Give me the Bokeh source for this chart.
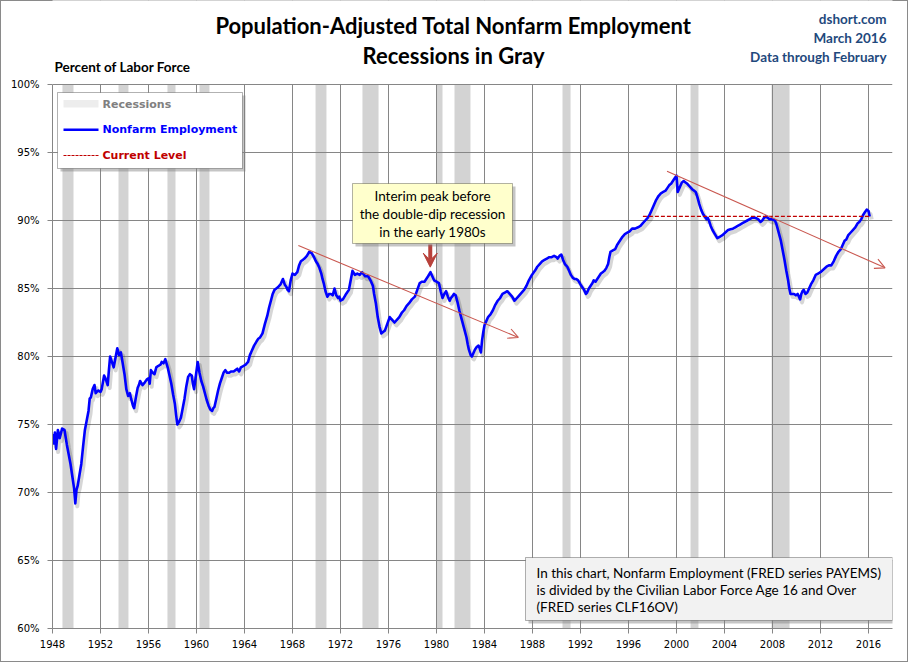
import numpy as np
from bokeh.plotting import figure
from bokeh.models import Range1d, FixedTicker, BoxAnnotation, Label, Arrow, OpenHead, VeeHead
from bokeh.embed import file_html
from bokeh.resources import INLINE

# ---------------- data ----------------
years = [
    1948.0, 1948.1, 1948.2, 1948.3, 1948.45, 1948.6, 1948.8, 1949.0, 1949.2, 1949.5, 1949.7, 1949.8, 1949.9,
    1950.0, 1950.1, 1950.25, 1950.4, 1950.55, 1950.7, 1950.85, 1951.0, 1951.1, 1951.2, 1951.35, 1951.5, 1951.6,
    1951.8, 1952.0, 1952.1, 1952.3, 1952.45, 1952.6, 1952.7, 1952.8, 1952.95, 1953.1, 1953.25, 1953.4, 1953.55,
    1953.7, 1953.85, 1954.0, 1954.15, 1954.3, 1954.45, 1954.55, 1954.7, 1954.8, 1954.95, 1955.1, 1955.2, 1955.3,
    1955.5, 1955.7, 1955.85, 1956.0, 1956.1, 1956.2, 1956.35, 1956.5, 1956.65, 1956.8, 1957.0, 1957.1, 1957.25,
    1957.4, 1957.5, 1957.6, 1957.75, 1957.9, 1958.05, 1958.2, 1958.3, 1958.4, 1958.55, 1958.7, 1958.85, 1959.0,
    1959.15, 1959.3, 1959.45, 1959.6, 1959.7, 1959.8, 1959.95, 1960.1, 1960.25, 1960.4, 1960.55, 1960.7, 1960.85,
    1961.0, 1961.15, 1961.3, 1961.4, 1961.5, 1961.65, 1961.8, 1961.95, 1962.1, 1962.25, 1962.4, 1962.55, 1962.7,
    1962.9, 1963.1, 1963.25, 1963.4, 1963.55, 1963.7, 1963.9, 1964.1, 1964.3, 1964.45, 1964.6, 1964.8, 1965.0,
    1965.15, 1965.3, 1965.5, 1965.7, 1965.9, 1966.05, 1966.2, 1966.35, 1966.5, 1966.65, 1966.8, 1967.0, 1967.2,
    1967.35, 1967.5, 1967.6, 1967.7, 1967.85, 1968.0, 1968.2, 1968.4, 1968.55, 1968.7, 1968.85, 1969.0, 1969.2,
    1969.4, 1969.6, 1969.8, 1969.95, 1970.1, 1970.25, 1970.4, 1970.5, 1970.6, 1970.75, 1970.9, 1971.05, 1971.2,
    1971.35, 1971.5, 1971.65, 1971.8, 1971.9, 1972.0, 1972.2, 1972.4, 1972.55, 1972.7, 1972.85, 1973.0, 1973.2,
    1973.4, 1973.6, 1973.8, 1974.05, 1974.3, 1974.5, 1974.7, 1974.8, 1974.95, 1975.1, 1975.25, 1975.4, 1975.55,
    1975.7, 1975.9, 1976.1, 1976.3, 1976.5, 1976.7, 1976.9, 1977.1, 1977.3, 1977.5, 1977.7, 1977.95, 1978.2,
    1978.4, 1978.6, 1978.8, 1979.0, 1979.15, 1979.3, 1979.5, 1979.65, 1979.8, 1980.0, 1980.2, 1980.35, 1980.5,
    1980.65, 1980.8, 1980.95, 1981.1, 1981.2, 1981.3, 1981.45, 1981.6, 1981.75, 1981.9, 1982.05, 1982.2, 1982.35,
    1982.5, 1982.6, 1982.7, 1982.85, 1982.95, 1983.1, 1983.2, 1983.35, 1983.5, 1983.6, 1983.7, 1983.8, 1983.9,
    1984.0, 1984.15, 1984.3, 1984.5, 1984.7, 1984.9, 1985.1, 1985.3, 1985.5, 1985.7, 1985.9, 1986.1, 1986.3,
    1986.5, 1986.7, 1986.9, 1987.1, 1987.3, 1987.5, 1987.7, 1987.95, 1988.2, 1988.4, 1988.6, 1988.8, 1989.0,
    1989.2, 1989.4, 1989.6, 1989.8, 1990.0, 1990.1, 1990.25, 1990.4, 1990.55, 1990.7, 1990.9, 1991.05, 1991.2,
    1991.35, 1991.5, 1991.65, 1991.8, 1992.0, 1992.15, 1992.3, 1992.45, 1992.55, 1992.7, 1992.85, 1993.0, 1993.1,
    1993.25, 1993.4, 1993.55, 1993.7, 1993.85, 1994.0, 1994.15, 1994.3, 1994.4, 1994.5, 1994.7, 1994.9, 1995.05,
    1995.2, 1995.35, 1995.5, 1995.7, 1995.9, 1996.1, 1996.3, 1996.55, 1996.8, 1997.0, 1997.2, 1997.4, 1997.6,
    1997.75, 1997.9, 1998.1, 1998.3, 1998.5, 1998.7, 1998.9, 1999.1, 1999.25, 1999.4, 1999.55, 1999.7, 1999.85,
    2000.0, 2000.1, 2000.2, 2000.3, 2000.45, 2000.6, 2000.75, 2000.9, 2001.1, 2001.3, 2001.45, 2001.6, 2001.75,
    2001.9, 2002.05, 2002.2, 2002.35, 2002.5, 2002.6, 2002.7, 2002.85, 2003.0, 2003.2, 2003.4, 2003.6, 2003.8,
    2004.05, 2004.3, 2004.5, 2004.7, 2004.9, 2005.1, 2005.3, 2005.5, 2005.7, 2005.9, 2006.1, 2006.3, 2006.55,
    2006.8, 2007.0, 2007.15, 2007.3, 2007.45, 2007.6, 2007.75, 2007.9, 2008.05, 2008.2, 2008.3, 2008.4, 2008.55,
    2008.7, 2008.85, 2009.0, 2009.15, 2009.3, 2009.4, 2009.5, 2009.65, 2009.8, 2009.95, 2010.1, 2010.2, 2010.3,
    2010.4, 2010.5, 2010.6, 2010.75, 2010.9, 2011.05, 2011.2, 2011.4, 2011.6, 2011.8, 2012.0, 2012.25, 2012.5,
    2012.7, 2012.9, 2013.1, 2013.3, 2013.5, 2013.7, 2013.85, 2014.0, 2014.15, 2014.3, 2014.5, 2014.7, 2014.9,
    2015.1, 2015.25, 2015.4, 2015.55, 2015.7, 2015.85, 2016.0, 2016.1,
]
employment = [
    74.3, 73.6, 74.4, 73.2, 74.6, 74.0, 74.7, 74.6, 73.5, 72.1, 70.9, 70.3, 69.2,
    70.2, 70.5, 71.3, 72.1, 73.4, 74.6, 75.3, 76.0, 76.9, 77.0, 77.6, 77.9, 77.3,
    77.5, 77.4, 77.6, 78.6, 78.3, 77.9, 79.0, 80.0, 79.6, 79.2, 79.9, 80.6, 80.1,
    80.3, 79.5, 78.7, 77.6, 77.1, 77.3, 76.9, 76.4, 76.2, 77.0, 77.7, 77.9, 78.2,
    77.9, 78.1, 78.3, 78.4, 78.0, 79.0, 78.8, 78.7, 79.2, 79.3, 79.4, 79.6, 79.5,
    79.8, 79.5, 79.2, 78.6, 78.0, 77.2, 76.5, 75.7, 75.0, 75.2, 75.5, 76.2, 76.9,
    77.8, 78.5, 78.7, 78.6, 78.0, 77.6, 78.6, 79.6, 78.8, 78.2, 77.8, 77.3, 76.8,
    76.4, 76.1, 76.0, 76.2, 76.3, 76.9, 77.5, 78.0, 78.4, 78.8, 79.0, 78.8, 78.8,
    78.9, 78.9, 79.0, 79.1, 78.9, 79.2, 79.3, 79.4, 79.6, 80.1, 80.4, 80.8, 81.1,
    81.3, 81.4, 81.7, 82.4, 83.0, 83.6, 84.1, 84.6, 84.9, 85.0, 85.1, 85.3, 85.7,
    85.3, 85.1, 84.9, 84.8, 85.6, 86.1, 86.0, 86.2, 86.7, 87.0, 87.1, 87.2, 87.4,
    87.7, 87.6, 87.3, 87.0, 86.8, 86.5, 86.1, 85.7, 85.4, 84.8, 84.4, 84.6, 84.6,
    84.5, 85.0, 84.5, 84.3, 84.4, 84.1, 84.2, 84.5, 84.7, 84.9, 85.6, 86.3, 86.0,
    86.1, 86.0, 86.2, 85.9, 85.9, 85.6, 85.2, 84.6, 83.9, 82.9, 82.2, 81.7, 81.8,
    81.9, 82.4, 82.9, 82.7, 82.5, 82.7, 82.9, 83.2, 83.4, 83.7, 83.9, 84.2, 84.4,
    84.9, 85.4, 85.5, 85.5, 85.7, 85.9, 86.2, 85.9, 85.6, 85.5, 85.4, 84.8, 84.3,
    84.6, 84.8, 84.4, 84.1, 84.3, 84.4, 84.6, 84.5, 84.0, 83.4, 82.9, 82.4, 81.9,
    81.4, 80.9, 80.5, 80.1, 80.0, 80.3, 80.5, 80.7, 80.8, 80.6, 80.3, 81.2, 81.8,
    82.3, 82.6, 82.9, 83.1, 83.4, 83.8, 84.1, 84.3, 84.6, 84.7, 84.8, 84.6, 84.4,
    84.1, 84.3, 84.5, 84.7, 84.9, 85.2, 85.6, 86.0, 86.3, 86.6, 86.8, 87.0, 87.1,
    87.2, 87.3, 87.3, 87.4, 87.3, 87.2, 87.4, 87.5, 87.1, 86.8, 86.6, 86.3, 86.0,
    85.8, 85.7, 85.7, 85.6, 85.3, 85.1, 84.9, 84.6, 84.7, 85.0, 85.2, 85.4, 85.6,
    85.5, 85.7, 85.9, 86.1, 86.2, 86.3, 86.5, 86.8, 87.3, 87.7, 87.8, 87.9, 88.2,
    88.4, 88.6, 88.8, 89.0, 89.1, 89.2, 89.4, 89.4, 89.5, 89.6, 89.8, 90.0, 90.2,
    90.4, 90.7, 91.1, 91.5, 91.8, 92.0, 92.1, 92.2, 92.4, 92.6, 92.7, 92.9, 93.1,
    93.3, 92.1, 92.3, 92.5, 92.8, 92.9, 92.8, 92.7, 92.5, 92.3, 92.2, 92.1, 91.7,
    91.2, 90.8, 90.5, 90.3, 90.1, 90.2, 90.0, 89.6, 89.3, 89.0, 88.7, 88.8, 88.9,
    89.1, 89.3, 89.35, 89.4, 89.5, 89.6, 89.7, 89.8, 89.9, 90.0, 90.1, 90.2, 90.2,
    90.1, 89.9, 90.0, 90.2, 90.3, 90.2, 90.1, 90.1, 90.05, 90.0, 89.8, 89.5, 89.0,
    88.5, 87.8, 87.1, 86.3, 85.6, 85.0, 84.6, 84.6, 84.6, 84.5, 84.6, 84.4, 84.2,
    84.6, 84.8, 84.9, 84.6, 84.7, 85.0, 85.3, 85.6, 86.0, 86.1, 86.2, 86.4, 86.6,
    86.7, 86.7, 87.0, 87.4, 87.7, 87.9, 88.2, 88.5, 88.6, 88.9, 89.1, 89.3, 89.5,
    89.8, 89.9, 90.1, 90.4, 90.6, 90.8, 90.7, 90.3,
]

rec_start = [1948.83, 1953.5, 1957.58, 1960.25, 1969.92, 1973.83, 1980.0, 1981.5, 1990.5, 2001.17, 2007.92]
rec_end = [1949.75, 1954.33, 1958.25, 1961.08, 1970.83, 1975.17, 1980.5, 1982.83, 1991.17, 2001.83, 2009.42]

current_level = employment[-1]
current_level_start = 1997.2

trend1_x = [1968.49, 1986.82]
trend1_y = [88.16, 81.4]
trend2_x = [1999.21, 2017.38]
trend2_y = [93.63, 86.52]

peak_arrow_x = 1979.48
peak_arrow_y = [88.24, 86.57]

x_ticks = list(range(1948, 2017, 4))
x_tick_labels = [str(t) for t in x_ticks]
y_ticks = [60, 65, 70, 75, 80, 85, 90, 95, 100]
y_tick_labels = ["60%", "65%", "70%", "75%", "80%", "85%", "90%", "95%", "100%"]

title_lines = ["Population-Adjusted Total Nonfarm Employment", "Recessions in Gray"]
source_lines = ["dshort.com", "March 2016", "Data through February"]
y_title = "Percent of Labor Force"
legend_labels = ["Recessions", "Nonfarm Employment", "Current Level"]
callout_lines = ["Interim peak before", "the double-dip recession", "in the early 1980s"]
note_lines = ["In this chart, Nonfarm Employment (FRED series PAYEMS)",
              "is divided by the Civilian Labor Force Age 16 and Over",
              "(FRED series CLF16OV)"]

# ---------------- layout helpers (page pixels -> data coords) ----------------
# The plotting frame spans the whole top of the canvas so that the heading texts
# (which Bokeh clips to the frame) stay visible; the data area is 60%..100%.
L, R, T, B = 52, 16, 84, 34
W, H = 908, 662
X0, X1, Y0, Y1 = 1948, 2018, 60, 100
PX_X = (X1 - X0) / (W - L - R)      # years per pixel
PX_Y = (Y1 - Y0) / (H - T - B)      # percent per pixel
Y_TOP = Y1 + T * PX_Y               # value at the very top of the canvas


def X(px):
    return X0 + (px - L) * PX_X


def Y(py):
    return Y1 - (py - T) * PX_Y


GRID = "#868686"
p = figure(width=W, height=H, x_range=Range1d(X0, X1), y_range=Range1d(Y0, Y_TOP),
           output_backend="svg", toolbar_location=None, title_location=None,
           min_border_left=L, min_border_right=R, min_border_top=0, min_border_bottom=B)
p.outline_line_color = None
p.background_fill_color = "white"
p.border_fill_color = None
p.styles = {"background-color": "white", "box-shadow": "inset 0 0 0 1px #8a8a8a"}

# axes
p.xaxis.ticker = FixedTicker(ticks=x_ticks)
p.xaxis.major_label_overrides = dict(zip(x_ticks, x_tick_labels))
p.yaxis.ticker = FixedTicker(ticks=y_ticks)
p.yaxis.major_label_overrides = dict(zip(y_ticks, y_tick_labels))
p.yaxis.bounds = (Y0, Y1)
for ax in (p.xaxis[0], p.yaxis[0]):
    ax.axis_line_color = GRID
    ax.major_tick_line_color = GRID
    ax.major_tick_out = 5
    ax.major_tick_in = 0
    ax.minor_tick_line_color = None
    ax.major_label_text_font = "DejaVu Sans"
    ax.major_label_text_font_size = "10px"
    ax.major_label_text_color = "black"
p.xaxis.major_label_standoff = 6
p.yaxis.major_label_standoff = 8
p.xgrid.ticker = FixedTicker(ticks=x_ticks)
p.ygrid.ticker = FixedTicker(ticks=y_ticks)
p.xgrid.grid_line_color = GRID
p.ygrid.grid_line_color = GRID

# recession bands (drawn beneath grid)
p.quad(left=rec_start, right=rec_end, bottom=Y0, top=Y1, fill_color="#D3D3D3",
       line_color=None, level="image")

# series with soft shadow
p.line(np.array(years) + 2 * PX_X, np.array(employment) - 3 * PX_Y, line_color="black",
       line_alpha=0.16, line_width=4, line_join="round")
p.line(years, employment, line_color="#0000FF", line_width=2.6, line_join="round")

# current level
p.line([current_level_start, years[-1]], [current_level, current_level], line_color="#C00000",
       line_width=1.3, line_dash="4 2")

# white heading area above the 100% line (hides the vertical grid lines there)
p.add_layout(BoxAnnotation(bottom=Y(83.5), fill_color="white", fill_alpha=1, line_color=None))

# trend lines
TREND = "#C9574F"
for tx, ty in ((trend1_x, trend1_y), (trend2_x, trend2_y)):
    p.add_layout(Arrow(x_start=tx[0], y_start=ty[0], x_end=tx[1], y_end=ty[1],
                       line_color=TREND, line_width=1.1,
                       end=OpenHead(size=10, line_color=TREND, line_width=1.1)))

# callout arrow
p.add_layout(Arrow(x_start=peak_arrow_x, y_start=peak_arrow_y[0], x_end=peak_arrow_x,
                   y_end=peak_arrow_y[1], line_color="#B8413A", line_width=4,
                   end=VeeHead(size=14, fill_color="#B8413A", line_color="#B8413A")))


def box(x1, y1, x2, y2, fill, line="black", shadow=True):
    if shadow:
        p.add_layout(BoxAnnotation(left=X(x1 + 3), right=X(x2 + 3), top=Y(y1 + 3), bottom=Y(y2 + 3),
                                   fill_color="#7f7f7f", fill_alpha=0.45, line_color=None))
    p.add_layout(BoxAnnotation(left=X(x1), right=X(x2), top=Y(y1), bottom=Y(y2),
                               fill_color=fill, fill_alpha=1, line_color=line, line_width=1))


def text(px, py, s, size, color="black", font="Lato", style="normal", align="left"):
    p.add_layout(Label(x=X(px), y=Y(py), text=s, text_font=font, text_font_size=size,
                       text_color=color, text_font_style=style, text_align=align,
                       text_baseline="middle"))


# callout box
box(352, 183, 512, 243, "#FFFFCC")
for i, s in enumerate(callout_lines):
    text(432, 195 + i * 18.3, s, "13.5px", align="center")

# note box
box(525, 557, 892, 620, "#F2F2F2")
for i, s in enumerate(note_lines):
    text(536, 572 + i * 17.3, s, "13.5px")

# legend
box(57, 92, 242, 168, "white")
p.add_layout(BoxAnnotation(left=X(63), right=X(98), top=Y(99.5), bottom=Y(107),
                           fill_color="#D3D3D3", line_color=None))
p.add_layout(Arrow(x_start=X(63), y_start=Y(129.3), x_end=X(98), y_end=Y(129.3), end=None,
                   line_color="#0000FF", line_width=2.6))
p.add_layout(Arrow(x_start=X(63), y_start=Y(155), x_end=X(98), y_end=Y(155), end=None,
                   line_color="#C00000", line_width=1, line_dash="3 1"))
legend_colors = ["#808080", "#0000FF", "#C00000"]
for i, (s, c) in enumerate(zip(legend_labels, legend_colors)):
    text(102, 103.5 + i * 25.8, s, "11px", color=c, font="DejaVu Sans", style="bold")

# headings
text(453, 25, title_lines[0], "22px", style="bold", align="center")
text(453, 55, title_lines[1], "22px", style="bold", align="center")
for i, s in enumerate(source_lines):
    text(886, 18 + i * 19, s, "13.5px", color="#1F497D", style="bold", align="right")
text(L + 2, 66, y_title, "13.5px", style="bold")

open("out.html", "w").write(file_html(p, INLINE))
